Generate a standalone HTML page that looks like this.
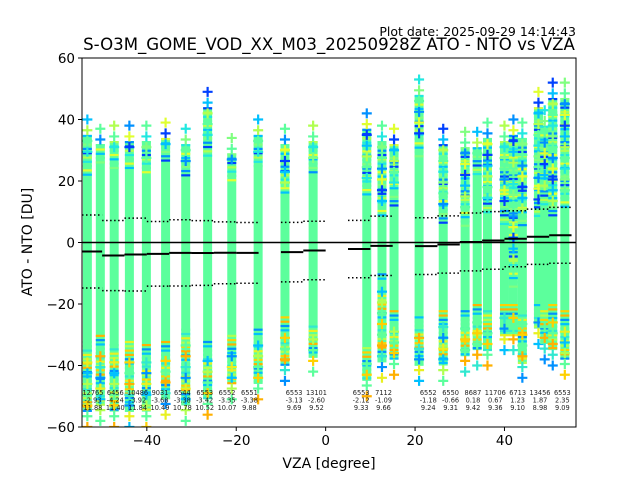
<!DOCTYPE html>
<html><head><meta charset="utf-8"><style>
html,body{margin:0;padding:0;background:#fff;}
svg text{font-family:"DejaVu Sans","Liberation Sans",sans-serif;}
</style></head><body>
<svg id="chart" width="640" height="480" viewBox="0 0 640 480" xmlns="http://www.w3.org/2000/svg">
<rect x="0" y="0" width="640" height="480" fill="#fff"/>
<text x="576" y="36" font-size="12.5" text-anchor="end">Plot date: 2025-09-29 14:14:43</text>
<text x="329" y="50" font-size="16.6" text-anchor="middle">S-O3M_GOME_VOD_XX_M03_20250928Z ATO - NTO vs VZA</text>
<g id="plot"></g>
<text x="329" y="468" font-size="14" text-anchor="middle">VZA [degree]</text>
<text x="32" y="242" font-size="14" text-anchor="middle" transform="rotate(-90 32 242)">ATO - NTO [DU]</text>
</svg>
<script>
// scatter columns (VZA deg) and value extents [DU]
const colVza = [-53.3,-50.4,-47.3,-43.9,-40.1,-35.8,-31.3,-26.4,-21.0,-15.1,-9.1,-2.8,9.2,12.6,15.3,20.9,26.3,31.2,33.9,36.2,40.0,42.0,44.0,47.6,49.0,50.8,53.5];
const crossTop = [40,37,38,38,38,39,37,49,34,40,37,38,42,38,37,53,37,36,36,39,38,40,39,49,43,52,52];
const coreTop = [22,26,24,24,23,26,22,28,20,24,15,22,14,8,12,28,6,5,22,8,6,-14,6,8,12,9,12];
const coreBot = [-32,-30,-33,-32,-33,-32,-28,-32,-30,-28,-24,-27,-34,-10,-22,-24,-22,-22,-20,-22,-20,-20,-22,-20,-22,-20,-22];
const crossBot = [-60,-58,-60,-60,-60,-56,-58,-56,-51,-51,-45,-42,-50,-44,-43,-45,-45,-42,-40,-40,-35,-35,-44,-33,-38,-40,-43];
// bin statistics
const binLo = [-55,-50,-45,-40,-35,-30,-25,-20,-10,-5,5,10,20,25,30,35,40,45,50];
const binHi = [-50,-45,-40,-35,-30,-25,-20,-15,-5,0,10,15,25,30,35,40,45,50,55];
const binCount = [12765,6456,10486,9031,6544,6553,6552,6551,6553,13101,6553,7112,6552,6550,8687,11706,6713,13456,6553];
const binMean = [-2.93,-4.24,-3.92,-3.68,-3.38,-3.42,-3.35,-3.38,-3.13,-2.60,-2.12,-1.09,-1.18,-0.66,0.18,0.67,1.23,1.87,2.35];
const binStd = [11.88,11.40,11.84,10.49,10.78,10.52,10.07,9.88,9.69,9.52,9.33,9.66,9.24,9.31,9.42,9.36,9.10,8.98,9.09];
const xTicks = [-40,-20,0,20,40];
const yTicks = [-60,-40,-20,0,20,40,60];

const X0=82,X1=576,Y0=58,Y1=427,XMIN=-54.5,XMAX=56,YMIN=-60,YMAX=60;
const sx=v=>X0+(v-XMIN)/(XMAX-XMIN)*(X1-X0);
const sy=v=>Y1-(v-YMIN)/(YMAX-YMIN)*(Y1-Y0);
const NS='http://www.w3.org/2000/svg';
const plot=document.getElementById('plot');
function mk(tag,attrs,parent){const e=document.createElementNS(NS,tag);for(const k in attrs)e.setAttribute(k,attrs[k]);(parent||plot).appendChild(e);return e;}
const clip=mk('clipPath',{id:'pc'});mk('rect',{x:X0,y:Y0,width:X1-X0,height:Y1-Y0},clip);
const g=mk('g',{'clip-path':'url(#pc)'});


const upCols=['#00c0ff','#5cff9c','#b0ff50','#0090ff','#5cff9c','#e0ff30','#20e8e0','#0040ff','#80ff80'];
const loCols=['#00c0ff','#5cff9c','#e8f020','#ffd000','#0090ff','#5cff9c','#30e8d0','#b0ff50','#ffb000'];
function cross(x,y,c){mk('path',{d:`M${x-5},${y}h10M${x},${y-5}v10`,stroke:c,'stroke-width':2.2},g);}
colVza.forEach((v,i)=>{
  const x=sx(v);
  const col=mk('rect',{x:x-4.5,y:sy(crossTop[i]-5),width:9,height:sy(crossBot[i]+5)-sy(crossTop[i]-5),fill:'#5cff9c'},g);
  
  
  let k=0;
  for(let val=crossTop[i]-5;val>coreTop[i];val-=1.4){mk('rect',{x:x-4.5,y:sy(val),width:9,height:2.2,fill:upCols[(k*4+i)%upCols.length]},g);k++;}
  for(let val=coreBot[i];val>crossBot[i]+5;val-=1.4){mk('rect',{x:x-4.5,y:sy(val),width:9,height:2.2,fill:loCols[(k*5+i)%loCols.length]},g);k++;}
  let j=0;
  for(let val=crossTop[i];val>coreTop[i]+4;val-=3.5){cross(x,sy(val),upCols[(j*2+i)%upCols.length]);j++;}
  for(let val=crossBot[i];val<coreBot[i]-4;val+=3.5){cross(x,sy(val),loCols[(j*2+i)%loCols.length]);j++;}
});
const zl=mk('line',{x1:X0,x2:X1,y1:sy(0),y2:sy(0),stroke:'#000','stroke-width':1.5});


binLo.forEach((lo,i)=>{
  const a=sx(lo),b=Math.min(sx(binHi[i]),X1),a2=Math.max(a,X0);
  const m=mk('line',{x1:a2,x2:b,y1:sy(binMean[i]),y2:sy(binMean[i]),stroke:'#000','stroke-width':2});
  
  
  [binMean[i]+binStd[i],binMean[i]-binStd[i]].forEach(v=>{
    const d=mk('line',{x1:a2,x2:b,y1:sy(v),y2:sy(v),stroke:'#000','stroke-width':1.5,'stroke-dasharray':'1.5,2.5'});
    
    
  });
  const cx=(a+b)/2+2;
  [binCount[i],binMean[i].toFixed(2),binStd[i].toFixed(2)].forEach((t,r)=>{
    const tx=mk('text',{x:cx,y:395+r*7.6,'font-size':6.6,'text-anchor':'middle',fill:'#222'});
    tx.textContent=t;
    
    
  });
});
const fr=mk('rect',{x:X0,y:Y0,width:X1-X0,height:Y1-Y0,fill:'none',stroke:'#000','stroke-width':1});


xTicks.forEach(t=>{
  const x=sx(t);
  mk('line',{x1:x,x2:x,y1:Y1,y2:Y1+4,stroke:'#000'});
  const tx=mk('text',{x:x,y:Y1+18,'font-size':13.5,'text-anchor':'middle'});
  tx.textContent=t<0?'\u2212'+(-t):t;
  
  
});
yTicks.forEach(t=>{
  const y=sy(t);
  mk('line',{x1:X0-4,x2:X0,y1:y,y2:y,stroke:'#000'});
  const tx=mk('text',{x:X0-7,y:y+5,'font-size':13.5,'text-anchor':'end'});
  tx.textContent=t<0?'\u2212'+(-t):t;
  
  
});
</script>
</body></html>
